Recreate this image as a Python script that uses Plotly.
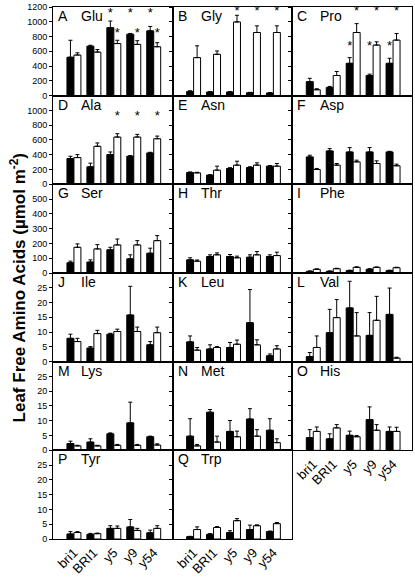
import plotly.graph_objects as go
from plotly.subplots import make_subplots

categories = ["bri1", "BRI1", "y5", "y9", "y54"]
panel_letters = ["A", "B", "C", "D", "E", "F", "G", "H", "I", "J", "K", "L", "M", "N", "O", "P", "Q"]
amino_acids = ["Glu", "Gly", "Pro", "Ala", "Asn", "Asp", "Ser", "Thr", "Phe",
               "Ile", "Leu", "Val", "Lys", "Met", "His", "Tyr", "Trp"]

# filled (black) and open (white) bars, means and upper error (SE)
glu_filled = [520, 670, 920, 832, 877]
glu_filled_err = [230, 12, 90, 10, 60]
glu_open = [550, 590, 705, 694, 662]
glu_open_err = [30, 35, 45, 50, 55]

gly_filled = [58, 50, 50, 40, 36]
gly_filled_err = [8, 5, 5, 5, 5]
gly_open = [515, 560, 998, 855, 855]
gly_open_err = [160, 45, 90, 90, 90]

pro_filled = [190, 112, 438, 273, 438]
pro_filled_err = [45, 13, 77, 18, 68]
pro_open = [80, 273, 855, 685, 752]
pro_open_err = [14, 54, 120, 44, 89]

ala_filled = [350, 237, 403, 380, 425]
ala_filled_err = [30, 50, 35, 9, 9]
ala_open = [362, 515, 640, 640, 617]
ala_open_err = [40, 45, 45, 36, 36]

asn_filled = [160, 125, 215, 228, 246]
asn_filled_err = [8, 5, 10, 10, 8]
asn_open = [155, 192, 260, 260, 246]
asn_open_err = [8, 54, 53, 31, 36]

asp_filled = [371, 452, 438, 438, 438]
asp_filled_err = [23, 31, 59, 59, 9]
asp_open = [201, 260, 304, 282, 251]
asp_open_err = [14, 22, 23, 36, 22]

ser_filled = [69, 74, 157, 96, 134]
ser_filled_err = [11, 15, 17, 27, 34]
ser_open = [174, 163, 190, 190, 219]
ser_open_err = [23, 29, 40, 29, 34]

thr_filled = [89, 112, 112, 107, 112]
thr_filled_err = [14, 11, 13, 16, 11]
thr_open = [80, 123, 103, 123, 118]
thr_open_err = [8, 13, 11, 22, 23]

phe_filled = [11, 11, 16, 25, 16]
phe_filled_err = [3, 3, 3, 4, 3]
phe_open = [25, 29, 38, 38, 36]
phe_open_err = [3, 3, 4, 3, 3]

ile_filled = [7.9, 4.6, 9.3, 15.8, 5.7]
ile_filled_err = [1.4, 0.5, 0.3, 9.7, 1.1]
ile_open = [6.8, 9.5, 10.2, 10.2, 9.8]
ile_open_err = [1.1, 1.1, 0.8, 1.5, 1.9]

leu_filled = [6.7, 4.3, 4.8, 13.2, 2.0]
leu_filled_err = [2.0, 1.4, 1.7, 11.2, 0.6]
leu_open = [3.9, 4.8, 5.9, 5.7, 4.3]
leu_open_err = [0.9, 0.3, 1.4, 1.7, 1.1]

val_filled = [1.7, 9.8, 18.2, 8.9, 16.0]
val_filled_err = [1.4, 7.9, 9.0, 7.7, 8.9]
val_open = [4.8, 14.9, 8.7, 14.0, 1.2]
val_open_err = [3.9, 6.1, 7.9, 8.1, 0.3]

lys_filled = [2.3, 2.8, 5.6, 9.3, 4.6]
lys_filled_err = [0.8, 1.1, 0.3, 7.0, 0.2]
lys_open = [1.5, 1.5, 1.7, 1.7, 1.8]
lys_open_err = [0.2, 0.2, 0.3, 0.3, 0.4]

met_filled = [4.8, 12.9, 6.4, 10.6, 6.8]
met_filled_err = [5.9, 0.9, 3.7, 3.5, 3.9]
met_open = [1.5, 2.8, 4.6, 4.8, 2.6]
met_open_err = [0.5, 2.0, 1.9, 2.2, 1.3]

his_filled = [4.3, 3.9, 5.1, 10.4, 6.4]
his_filled_err = [2.7, 1.7, 1.4, 4.3, 1.5]
his_open = [6.4, 7.6, 4.6, 6.8, 6.4]
his_open_err = [1.5, 1.1, 0.4, 1.9, 1.4]

tyr_filled = [1.7, 1.6, 3.6, 4.1, 2.1]
tyr_filled_err = [0.8, 0.3, 0.9, 2.5, 0.9]
tyr_open = [2.2, 1.8, 3.6, 2.9, 3.6]
tyr_open_err = [0.3, 0.2, 0.8, 0.7, 0.9]

trp_filled = [0.8, 1.6, 2.2, 3.2, 2.5]
trp_filled_err = [0.1, 0.2, 0.6, 1.5, 0.2]
trp_open = [3.2, 3.9, 6.2, 4.5, 5.2]
trp_open_err = [0.9, 0.3, 0.7, 0.3, 0.4]

# significance stars: panel, series, categories, y level
star_panels = ["Glu", "Glu", "Gly", "Pro", "Pro", "Ala"]
star_series = ["filled", "open", "open", "filled", "open", "open"]
star_categories = [["y5", "y9", "y54"]] * 6
star_levels = [1105, 836, 1130, 660, 1130, 916]

# y axis ranges & tick labels per row
row_ranges = [1200, 1200, 600, 30, 30, 30]
row_tickvals = [
    [0, 200, 400, 600, 800, 1000, 1200],
    [0, 200, 400, 600, 800, 1000],
    [0, 100, 200, 300, 400, 500],
    [0, 5, 10, 15, 20, 25],
    [0, 5, 10, 15, 20, 25],
    [0, 5, 10, 15, 20, 25],
]

data = {
    "Glu": (glu_filled, glu_filled_err, glu_open, glu_open_err),
    "Gly": (gly_filled, gly_filled_err, gly_open, gly_open_err),
    "Pro": (pro_filled, pro_filled_err, pro_open, pro_open_err),
    "Ala": (ala_filled, ala_filled_err, ala_open, ala_open_err),
    "Asn": (asn_filled, asn_filled_err, asn_open, asn_open_err),
    "Asp": (asp_filled, asp_filled_err, asp_open, asp_open_err),
    "Ser": (ser_filled, ser_filled_err, ser_open, ser_open_err),
    "Thr": (thr_filled, thr_filled_err, thr_open, thr_open_err),
    "Phe": (phe_filled, phe_filled_err, phe_open, phe_open_err),
    "Ile": (ile_filled, ile_filled_err, ile_open, ile_open_err),
    "Leu": (leu_filled, leu_filled_err, leu_open, leu_open_err),
    "Val": (val_filled, val_filled_err, val_open, val_open_err),
    "Lys": (lys_filled, lys_filled_err, lys_open, lys_open_err),
    "Met": (met_filled, met_filled_err, met_open, met_open_err),
    "His": (his_filled, his_filled_err, his_open, his_open_err),
    "Tyr": (tyr_filled, tyr_filled_err, tyr_open, tyr_open_err),
    "Trp": (trp_filled, trp_filled_err, trp_open, trp_open_err),
}

FONT = "Arial, Liberation Sans, sans-serif"
W, H = 415, 578
ML, MR, MT, MB = 53, 2, 5, 34

specs = [[{}, {}, {}] for _ in range(6)]
specs[5][2] = None
fig = make_subplots(rows=6, cols=3, specs=specs,
                    horizontal_spacing=0, vertical_spacing=0)

idx = list(range(len(categories)))
BAR_SHIFT = 0.175

for n, aa in enumerate(amino_acids):
    r, c = n // 3 + 1, n % 3 + 1
    f, fe, o, oe = data[aa]
    fig.add_trace(go.Bar(
        x=idx, y=f, width=0.35, offset=-0.35,
        marker=dict(color="black", line=dict(color="black", width=1)),
        error_y=dict(type="data", array=fe, arrayminus=[0] * 5, symmetric=False,
                     color="black", thickness=1, width=2),
        showlegend=False, hoverinfo="skip"), row=r, col=c)
    fig.add_trace(go.Bar(
        x=idx, y=o, width=0.35, offset=0.0,
        marker=dict(color="white", line=dict(color="black", width=1)),
        error_y=dict(type="data", array=oe, arrayminus=[0] * 5, symmetric=False,
                     color="black", thickness=1, width=2),
        showlegend=False, hoverinfo="skip"), row=r, col=c)

    axn = "" if n == 0 else str(n + 1)
    show_x = (r == 6) or (r == 5 and c == 3)
    fig.update_xaxes(range=[-1.05, 4.95], tickvals=idx, ticktext=categories,
                     showticklabels=show_x, tickangle=-45, ticks="",
                     tickfont=dict(family=FONT, size=13, color="black"),
                     showline=True, mirror=True, linecolor="black", linewidth=1,
                     showgrid=False, zeroline=False, row=r, col=c)
    fig.update_yaxes(range=[0, row_ranges[r - 1]], tickvals=row_tickvals[r - 1],
                     showticklabels=(c == 1), ticks="outside", ticklen=3,
                     tickwidth=1, tickcolor="black",
                     tickfont=dict(family=FONT, size=9, color="black"),
                     showline=True, mirror=True, linecolor="black", linewidth=1,
                     showgrid=False, zeroline=False, row=r, col=c)

    fig.add_annotation(text=panel_letters[n], xref=f"x{axn} domain", yref=f"y{axn} domain",
                       x=0, y=1, xanchor="left", yanchor="top", xshift=3, yshift=1,
                       showarrow=False, font=dict(family=FONT, size=14, color="black"))
    fig.add_annotation(text=aa, xref=f"x{axn} domain", yref=f"y{axn} domain",
                       x=0, y=1, xanchor="left", yanchor="top", xshift=26, yshift=1,
                       showarrow=False, font=dict(family=FONT, size=14, color="black"))

# stars
for p, s, cats, lvl in zip(star_panels, star_series, star_categories, star_levels):
    n = amino_acids.index(p)
    r, c = n // 3 + 1, n % 3 + 1
    xs = [categories.index(k) + (-BAR_SHIFT if s == "filled" else BAR_SHIFT) for k in cats]
    fig.add_trace(go.Scatter(x=xs, y=[lvl] * len(xs), mode="text", text=["*"] * len(xs),
                             textposition="middle center",
                             textfont=dict(family=FONT, size=13, color="black"),
                             showlegend=False, hoverinfo="skip", cliponaxis=False),
                  row=r, col=c)

fig.add_annotation(text="<b>Leaf Free Amino Acids (µmol m<sup>-2</sup>)</b>",
                   xref="paper", yref="paper", x=0, y=0.471, xshift=-35,
                   xanchor="center", yanchor="middle", textangle=-90,
                   showarrow=False, font=dict(family=FONT, size=17, color="black"))

fig.update_layout(width=W, height=H, margin=dict(l=ML, r=MR, t=MT, b=MB),
                  paper_bgcolor="white", plot_bgcolor="white",
                  barmode="overlay", showlegend=False,
                  font=dict(family=FONT, color="black"))

fig.write_html("out.html", config={"displayModeBar": False},
               post_script="document.body.style.margin='0px';document.body.style.overflow='hidden';")
